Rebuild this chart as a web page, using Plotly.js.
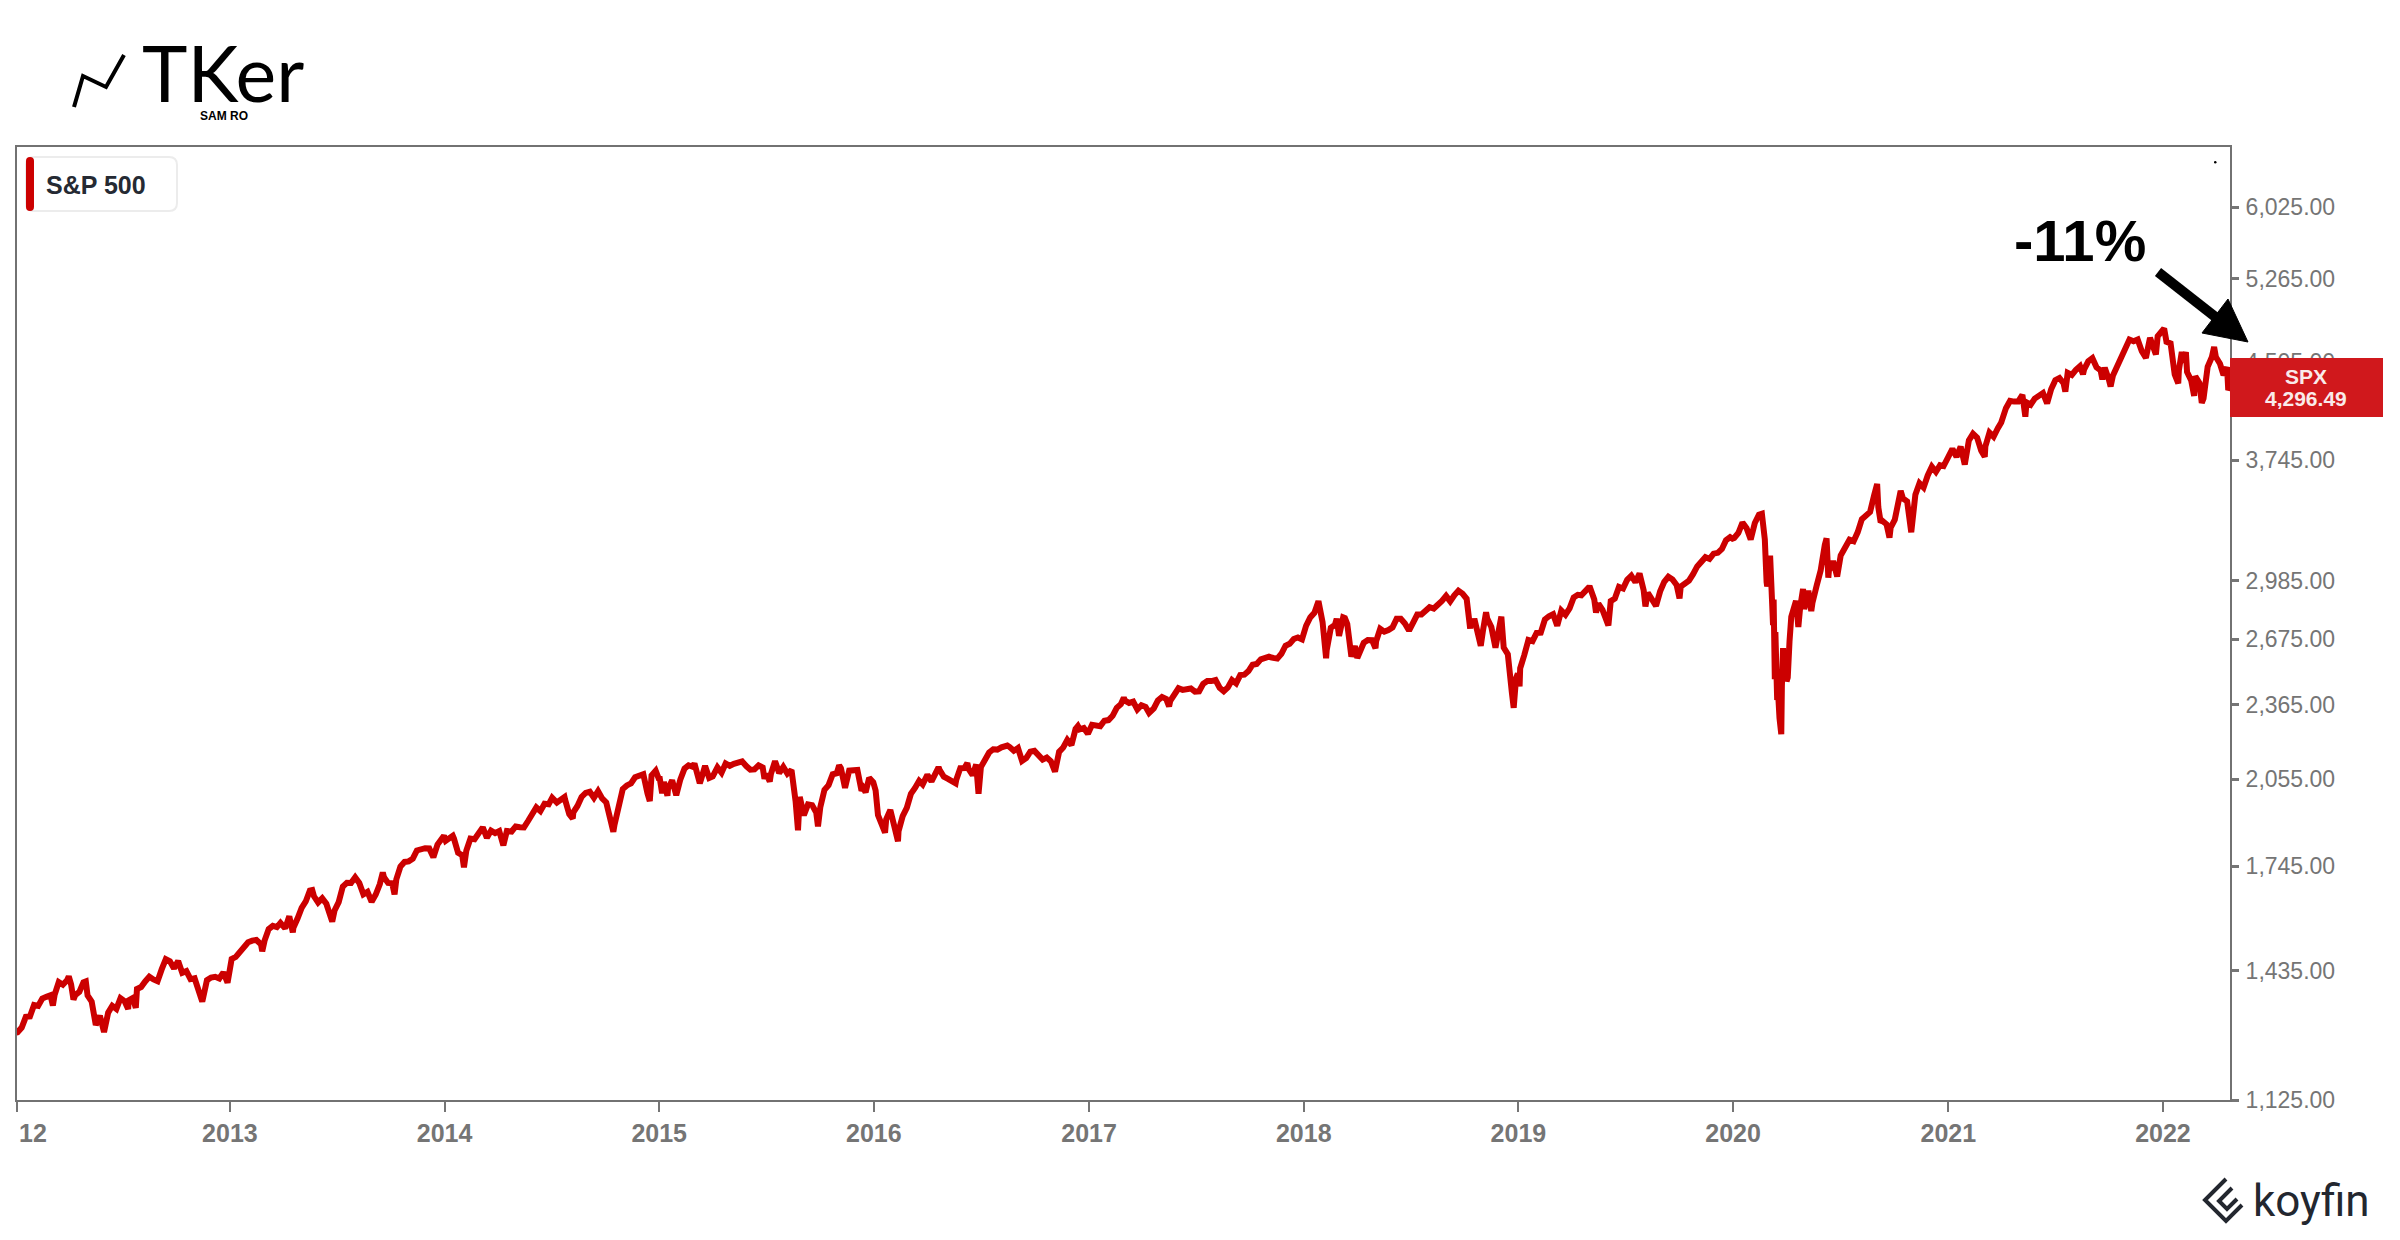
<!DOCTYPE html>
<html>
<head>
<meta charset="utf-8">
<script src="https://cdn.plot.ly/plotly-3.0.1.min.js"></script>
<style>
  html, body { margin: 0; padding: 0; background: #ffffff; }
  #chart { width: 2400px; height: 1240px; }
</style>
</head>
<body>
<div id="chart"></div>
<script>
// ---------------- DATA (S&P 500 closes, [MM-DD, value]) ----------------
const spx2012 = [["01-03",1277.06],["01-06",1277.81],["01-13",1289.09],["01-20",1315.38],["01-27",1316.33],["02-03",1344.90],["02-10",1342.64],["02-17",1361.23],["02-24",1365.74],["03-02",1369.63],["03-06",1343.36],["03-09",1370.87],["03-16",1404.17],["03-23",1397.11],["03-30",1408.47],["04-02",1419.04],["04-06",1398.08],["04-10",1358.59],["04-13",1370.26],["04-20",1378.53],["04-27",1403.36],["05-01",1405.82],["05-04",1369.10],["05-11",1353.39],["05-18",1295.22],["05-25",1317.82],["06-01",1278.04],["06-08",1325.66],["06-15",1342.84],["06-22",1335.02],["06-29",1362.16],["07-06",1354.68],["07-12",1334.76],["07-13",1356.78],["07-20",1362.66],["07-25",1337.89],["07-27",1385.97],["08-03",1390.99],["08-10",1405.87],["08-17",1418.16],["08-24",1411.13],["08-31",1406.58],["09-07",1437.92],["09-14",1465.77],["09-21",1460.15],["09-28",1440.67],["10-05",1460.93],["10-12",1428.59],["10-19",1433.19],["10-26",1411.94],["11-02",1414.20],["11-09",1379.85],["11-15",1353.33],["11-16",1359.88],["11-23",1409.15],["11-30",1416.18],["12-07",1418.07],["12-14",1413.58],["12-21",1430.15],["12-28",1402.43],["12-31",1426.19]];
const spx2013 = [["01-04",1466.47],["01-11",1472.05],["01-18",1485.98],["01-25",1502.96],["02-01",1513.17],["02-08",1517.93],["02-15",1519.79],["02-20",1511.95],["02-22",1515.60],["02-25",1487.85],["03-01",1518.20],["03-08",1551.18],["03-15",1560.70],["03-22",1556.89],["03-28",1569.19],["04-05",1553.28],["04-12",1588.85],["04-18",1541.61],["04-19",1555.25],["04-26",1582.24],["05-03",1614.42],["05-10",1633.70],["05-17",1667.47],["05-21",1669.16],["05-24",1649.60],["05-31",1630.74],["06-07",1643.38],["06-14",1626.73],["06-21",1592.43],["06-24",1573.09],["06-28",1606.28],["07-05",1631.89],["07-12",1680.19],["07-19",1692.09],["07-26",1691.65],["08-02",1709.67],["08-09",1691.42],["08-16",1655.83],["08-23",1663.50],["08-30",1632.97],["09-06",1655.17],["09-13",1687.99],["09-18",1725.52],["09-20",1709.91],["09-27",1691.75],["10-04",1690.50],["10-08",1655.45],["10-11",1703.20],["10-18",1744.50],["10-25",1759.77],["11-01",1761.64],["11-08",1770.61],["11-15",1798.18],["11-22",1804.76],["11-29",1805.81],["12-06",1805.09],["12-13",1775.32],["12-20",1818.32],["12-27",1841.40],["12-31",1848.36]];
const spx2014 = [["01-03",1831.37],["01-10",1842.37],["01-15",1848.38],["01-17",1838.70],["01-24",1790.29],["01-31",1782.59],["02-03",1741.89],["02-07",1797.02],["02-14",1838.63],["02-21",1836.25],["02-28",1859.45],["03-07",1878.04],["03-14",1841.13],["03-21",1866.52],["03-28",1857.62],["04-04",1865.09],["04-11",1815.69],["04-17",1864.85],["04-25",1863.40],["05-02",1881.14],["05-09",1878.48],["05-16",1877.86],["05-23",1900.53],["05-30",1923.57],["06-06",1949.44],["06-13",1936.16],["06-20",1962.87],["06-27",1960.96],["07-03",1985.44],["07-11",1967.57],["07-18",1978.22],["07-24",1987.98],["07-25",1978.34],["07-31",1930.67],["08-01",1925.15],["08-07",1909.57],["08-08",1931.59],["08-15",1955.06],["08-22",1988.40],["08-29",2003.37],["09-05",2007.71],["09-12",1985.54],["09-18",2011.36],["09-19",2010.40],["09-26",1982.85],["10-03",1967.90],["10-10",1906.13],["10-15",1862.49],["10-17",1886.76],["10-24",1964.58],["10-31",2018.05],["11-07",2031.92],["11-14",2039.82],["11-21",2063.50],["11-28",2067.56],["12-05",2075.37],["12-12",2002.33],["12-16",1972.74],["12-19",2070.65],["12-26",2088.77],["12-31",2058.90]];
const spx2015 = [["01-02",2058.20],["01-06",2002.61],["01-09",2044.81],["01-15",1992.67],["01-16",2019.42],["01-23",2051.82],["01-30",1994.99],["02-06",2055.47],["02-13",2096.99],["02-20",2110.30],["02-27",2104.50],["03-02",2117.39],["03-06",2071.26],["03-11",2040.24],["03-13",2053.40],["03-20",2108.10],["03-27",2061.02],["04-02",2066.96],["04-10",2102.06],["04-17",2081.18],["04-24",2117.69],["05-01",2108.29],["05-08",2116.10],["05-15",2122.73],["05-21",2130.82],["05-22",2126.06],["05-29",2107.39],["06-05",2092.83],["06-12",2094.11],["06-19",2109.99],["06-26",2101.49],["06-29",2057.64],["07-02",2076.78],["07-08",2046.68],["07-10",2076.62],["07-17",2126.64],["07-24",2079.65],["07-31",2103.84],["08-07",2077.57],["08-14",2091.54],["08-21",1970.89],["08-24",1893.21],["08-25",1867.61],["08-28",1988.87],["09-04",1921.22],["09-11",1961.05],["09-18",1958.03],["09-25",1931.34],["09-28",1881.77],["10-02",1951.36],["10-09",2014.89],["10-16",2033.11],["10-23",2075.15],["10-30",2079.36],["11-03",2109.79],["11-06",2099.20],["11-13",2023.04],["11-20",2089.17],["11-27",2090.11],["12-04",2091.69],["12-11",2012.37],["12-14",2021.94],["12-18",2005.55],["12-24",2060.99],["12-31",2043.94]];
const spx2016 = [["01-04",2012.66],["01-08",1922.03],["01-15",1880.33],["01-20",1859.33],["01-22",1906.90],["01-29",1940.24],["02-05",1880.05],["02-11",1829.08],["02-12",1864.78],["02-19",1917.78],["02-26",1948.05],["03-04",1999.99],["03-11",2022.19],["03-18",2049.58],["03-24",2035.94],["04-01",2072.78],["04-08",2047.60],["04-15",2080.73],["04-20",2102.40],["04-22",2091.58],["04-29",2065.30],["05-06",2057.14],["05-13",2046.61],["05-19",2040.04],["05-20",2052.32],["05-27",2099.06],["06-03",2099.13],["06-08",2119.12],["06-10",2096.07],["06-17",2071.22],["06-23",2113.32],["06-24",2037.41],["06-27",2000.54],["07-01",2102.95],["07-08",2129.90],["07-15",2161.74],["07-22",2175.03],["07-29",2173.60],["08-05",2182.87],["08-12",2184.05],["08-15",2190.15],["08-19",2183.87],["08-26",2169.04],["09-02",2179.98],["09-09",2127.81],["09-16",2139.16],["09-23",2164.69],["09-30",2168.27],["10-07",2153.74],["10-14",2132.98],["10-21",2141.16],["10-28",2126.41],["11-04",2085.18],["11-11",2164.45],["11-18",2181.90],["11-25",2213.35],["12-02",2191.95],["12-09",2259.53],["12-13",2271.72],["12-16",2258.07],["12-23",2263.79],["12-30",2238.83]];
const spx2017 = [["01-06",2276.98],["01-13",2274.64],["01-20",2271.31],["01-27",2294.69],["02-03",2297.42],["02-10",2316.10],["02-17",2351.16],["02-24",2367.34],["03-01",2395.96],["03-03",2383.12],["03-10",2372.60],["03-17",2378.25],["03-24",2343.98],["03-31",2362.72],["04-07",2355.54],["04-13",2328.95],["04-21",2348.69],["04-28",2384.20],["05-05",2399.29],["05-12",2390.90],["05-17",2357.03],["05-19",2381.73],["05-26",2415.82],["06-02",2439.07],["06-09",2431.77],["06-16",2433.15],["06-23",2438.30],["06-30",2423.41],["07-07",2425.18],["07-14",2459.27],["07-21",2472.54],["07-28",2472.10],["08-04",2476.83],["08-11",2441.32],["08-18",2425.55],["08-25",2443.05],["09-01",2476.55],["09-08",2461.43],["09-15",2500.23],["09-22",2502.22],["09-29",2519.36],["10-06",2549.33],["10-13",2553.17],["10-20",2575.21],["10-27",2581.07],["11-03",2587.84],["11-10",2582.30],["11-17",2578.85],["11-24",2602.42],["12-01",2642.22],["12-08",2651.50],["12-15",2675.81],["12-22",2683.34],["12-29",2673.61]];
const spx2018 = [["01-05",2743.15],["01-12",2786.24],["01-19",2810.30],["01-26",2872.87],["02-02",2762.13],["02-05",2648.94],["02-08",2581.00],["02-09",2619.55],["02-16",2732.22],["02-23",2747.30],["02-26",2779.60],["03-02",2691.25],["03-09",2786.57],["03-12",2783.02],["03-16",2752.01],["03-23",2588.26],["03-29",2640.87],["04-02",2581.88],["04-06",2604.47],["04-13",2656.30],["04-20",2670.14],["04-27",2669.91],["05-03",2629.73],["05-04",2663.42],["05-11",2727.72],["05-18",2712.97],["05-25",2721.33],["06-01",2734.62],["06-08",2779.03],["06-15",2779.66],["06-22",2754.88],["06-29",2718.37],["07-06",2759.82],["07-13",2801.31],["07-20",2801.83],["07-27",2818.82],["08-03",2840.35],["08-10",2833.28],["08-17",2850.13],["08-24",2874.69],["08-31",2901.52],["09-07",2871.68],["09-14",2904.98],["09-20",2930.75],["09-21",2929.67],["09-28",2913.98],["10-05",2885.57],["10-11",2728.37],["10-12",2767.13],["10-19",2767.78],["10-26",2658.69],["10-29",2641.25],["11-02",2723.06],["11-07",2813.89],["11-09",2781.01],["11-16",2736.27],["11-23",2632.56],["11-30",2760.17],["12-03",2790.37],["12-07",2633.08],["12-14",2599.95],["12-21",2416.62],["12-24",2351.10],["12-28",2485.74],["12-31",2506.85]];
const spx2019 = [["01-03",2447.89],["01-04",2531.94],["01-11",2596.26],["01-18",2670.71],["01-25",2664.76],["02-01",2706.53],["02-08",2707.88],["02-15",2775.60],["02-22",2792.67],["03-01",2803.69],["03-08",2743.07],["03-15",2822.48],["03-22",2800.71],["03-29",2834.40],["04-05",2892.74],["04-12",2907.41],["04-18",2905.03],["04-26",2939.88],["04-30",2945.83],["05-03",2945.64],["05-10",2881.40],["05-13",2811.87],["05-17",2859.53],["05-24",2826.06],["05-31",2752.06],["06-03",2744.45],["06-07",2873.34],["06-14",2886.98],["06-21",2950.46],["06-28",2941.76],["07-05",2990.41],["07-12",3013.77],["07-19",2976.61],["07-26",3025.86],["08-02",2932.05],["08-05",2844.74],["08-09",2918.65],["08-16",2888.68],["08-23",2847.11],["08-30",2926.46],["09-06",2978.71],["09-13",3007.39],["09-20",2992.07],["09-27",2961.79],["10-02",2887.61],["10-04",2952.01],["10-11",2970.27],["10-18",2986.20],["10-25",3022.55],["11-01",3066.91],["11-08",3093.08],["11-15",3120.46],["11-22",3110.29],["11-29",3140.98],["12-06",3145.91],["12-13",3168.80],["12-20",3221.22],["12-27",3240.02],["12-31",3230.78]];
const spx2020 = [["01-03",3234.85],["01-10",3265.35],["01-17",3329.62],["01-24",3295.47],["01-31",3225.52],["02-07",3327.71],["02-14",3380.16],["02-19",3386.15],["02-21",3337.75],["02-24",3225.89],["02-27",2978.76],["02-28",2954.22],["03-03",3003.37],["03-04",3130.12],["03-06",2972.37],["03-09",2746.56],["03-10",2882.23],["03-11",2741.38],["03-12",2480.64],["03-13",2711.02],["03-16",2386.13],["03-17",2529.19],["03-18",2398.10],["03-20",2304.92],["03-23",2237.40],["03-24",2447.33],["03-26",2630.07],["03-27",2541.47],["03-31",2584.59],["04-01",2470.50],["04-03",2488.65],["04-06",2663.68],["04-09",2789.82],["04-17",2874.56],["04-21",2736.56],["04-24",2836.74],["04-29",2939.51],["05-01",2830.71],["05-08",2929.80],["05-13",2820.00],["05-15",2863.70],["05-22",2955.45],["05-29",3044.31],["06-05",3193.93],["06-08",3232.39],["06-11",3002.10],["06-12",3041.31],["06-19",3097.74],["06-26",3009.05],["07-02",3130.01],["07-10",3185.04],["07-17",3224.73],["07-24",3215.63],["07-31",3271.12],["08-07",3351.28],["08-14",3372.85],["08-21",3397.16],["08-28",3508.01],["09-02",3580.84],["09-04",3426.96],["09-08",3331.84],["09-11",3340.97],["09-18",3319.47],["09-23",3236.92],["09-25",3298.46],["10-02",3348.44],["10-09",3477.13],["10-12",3534.22],["10-16",3483.81],["10-23",3465.39],["10-30",3269.96],["11-06",3509.44],["11-13",3585.15],["11-20",3557.54],["11-27",3638.35],["12-04",3699.12],["12-11",3663.46],["12-18",3709.41],["12-24",3703.06],["12-31",3756.07]];
const spx2021 = [["01-08",3824.68],["01-15",3768.25],["01-22",3841.47],["01-27",3750.77],["01-29",3714.24],["02-05",3886.83],["02-12",3934.83],["02-19",3906.71],["02-26",3811.15],["03-04",3768.47],["03-05",3841.94],["03-12",3943.34],["03-19",3913.10],["03-26",3974.54],["04-01",4019.87],["04-09",4128.80],["04-16",4185.47],["04-23",4180.17],["04-30",4181.17],["05-07",4232.60],["05-12",4063.04],["05-14",4173.85],["05-21",4155.86],["05-28",4204.11],["06-04",4229.89],["06-11",4247.44],["06-18",4166.45],["06-25",4280.70],["07-02",4352.34],["07-09",4369.55],["07-16",4327.16],["07-19",4258.49],["07-23",4411.79],["07-30",4395.26],["08-06",4436.52],["08-13",4468.00],["08-18",4400.27],["08-20",4441.67],["08-27",4509.37],["09-03",4535.43],["09-10",4458.58],["09-17",4432.99],["09-20",4357.73],["09-24",4455.48],["10-01",4357.04],["10-04",4300.46],["10-08",4391.34],["10-15",4471.37],["10-22",4544.90],["10-29",4605.38],["11-05",4697.53],["11-12",4682.85],["11-19",4697.96],["11-26",4594.62],["11-30",4567.00],["12-03",4538.43],["12-10",4712.02],["12-17",4620.64],["12-20",4568.02],["12-23",4725.79],["12-31",4766.18]];
const spx2022 = [["01-03",4796.56],["01-07",4677.03],["01-14",4662.85],["01-21",4397.94],["01-27",4326.51],["01-28",4431.85],["02-02",4589.38],["02-04",4500.53],["02-09",4587.18],["02-11",4418.64],["02-18",4348.87],["02-23",4225.50],["02-25",4384.65],["03-04",4328.87],["03-08",4170.70],["03-11",4204.31],["03-18",4463.12],["03-25",4543.06],["03-29",4631.60],["04-01",4545.86],["04-08",4488.28],["04-14",4392.59],["04-20",4459.45],["04-22",4271.78],["04-25",4296.49]];

const seriesByYear = {2012: spx2012, 2013: spx2013, 2014: spx2014, 2015: spx2015, 2016: spx2016, 2017: spx2017, 2018: spx2018, 2019: spx2019, 2020: spx2020, 2021: spx2021, 2022: spx2022};

const yTickVals = [1125, 1435, 1745, 2055, 2365, 2675, 2985, 3745, 4505, 5265, 6025];
const xTickYears = [2013, 2014, 2015, 2016, 2017, 2018, 2019, 2020, 2021, 2022];
const xRange = ["2012-01-05", "2022-04-25"];
const seriesName = "S&P 500";
const tickerName = "SPX";
const calloutText = "-11%";

// ---------------- BUILD ----------------
const dates = [], values = [];
Object.keys(seriesByYear).forEach(function (yr) {
  seriesByYear[yr].forEach(function (p) { dates.push(yr + "-" + p[0]); values.push(p[1]); });
});
const lastValue = values[values.length - 1];
const fmt2 = v => v.toLocaleString("en-US", {minimumFractionDigits: 2, maximumFractionDigits: 2});

// plot area in pixels
const PL = 17, PR = 2230, PT = 147, PB = 1100;
const px = x => (x - PL) / (PR - PL);
const py = y => (PB - y) / (PB - PT);
const P = (x, y) => px(x).toFixed(5) + "," + py(y).toFixed(5);
function roundRect(x0, y0, x1, y1, r) {
  return "M" + P(x0 + r, y0) + " L" + P(x1 - r, y0) + " Q" + P(x1, y0) + " " + P(x1, y0 + r) +
    " L" + P(x1, y1 - r) + " Q" + P(x1, y1) + " " + P(x1 - r, y1) +
    " L" + P(x0 + r, y1) + " Q" + P(x0, y1) + " " + P(x0, y1 - r) +
    " L" + P(x0, y0 + r) + " Q" + P(x0, y0) + " " + P(x0 + r, y0) + " Z";
}

const axisGray = "#757575";
const frameGray = "#727272";
const baseFont = "'Liberation Sans', Arial, sans-serif";

const trace = {
  x: dates, y: values, type: "scatter", mode: "lines", name: seriesName,
  line: {color: "#cc0000", width: 6}, hoverinfo: "skip"
};

const shapes = [
  // legend box
  {type: "path", xref: "paper", yref: "paper", path: roundRect(26, 157, 177, 211, 8), fillcolor: "#ffffff", line: {color: "#ececec", width: 2}, layer: "above"},
  {type: "path", xref: "paper", yref: "paper", path: roundRect(26, 157, 34, 211, 4), fillcolor: "#cc0000", line: {width: 0}, layer: "above"},
  // arrow shaft and head
  {type: "line", xref: "paper", yref: "paper", x0: px(2158), y0: py(272), x1: px(2218), y1: py(319), line: {color: "#000000", width: 10}, layer: "above"},
  {type: "path", xref: "paper", yref: "paper", path: "M" + P(2248, 342) + " L" + P(2202, 333) + " L" + P(2228, 299) + " Z", fillcolor: "#000000", line: {color: "#000000", width: 1}, layer: "above"},
  // small dot
  {type: "circle", xref: "paper", yref: "paper", x0: px(2214), y0: py(161), x1: px(2216.5), y1: py(163.5), fillcolor: "#000", line: {width: 0}, layer: "above"},
  // TKer logo mark
  {type: "path", xref: "paper", yref: "paper", path: "M" + P(74, 107) + " L" + P(83, 76) + " L" + P(106, 87) + " L" + P(124, 55), line: {color: "#000", width: 4}, layer: "above"},
  // koyfin mark
  {type: "path", xref: "paper", yref: "paper", path: "M" + P(2226, 1179) + " L" + P(2205, 1200) + " L" + P(2226, 1221) + " L" + P(2242, 1205), line: {color: "#23272f", width: 4}, layer: "above"},
  {type: "path", xref: "paper", yref: "paper", path: "M" + P(2232, 1188) + " L" + P(2219, 1201) + " L" + P(2227, 1209) + " L" + P(2237, 1199), line: {color: "#23272f", width: 4}, layer: "above"}
];

const annotations = [
  {xref: "paper", yref: "paper", x: px(223), y: py(72), xanchor: "center", yanchor: "middle", showarrow: false, text: "TKer", font: {family: "Lato, 'Open Sans', sans-serif", size: 77, color: "#000"}},
  {xref: "paper", yref: "paper", x: px(223.5), y: py(116), xanchor: "center", yanchor: "middle", showarrow: false, text: "SAM RO", font: {family: "'Liberation Sans Narrow', 'Liberation Sans', sans-serif", size: 12, color: "#000", weight: "bold"}},
  {xref: "paper", yref: "paper", x: px(44), y: py(185), xanchor: "left", yanchor: "middle", showarrow: false, text: seriesName, font: {family: baseFont, size: 25, color: "#252a33", weight: "bold"}},
  {xref: "paper", yref: "paper", x: px(2080), y: py(241), xanchor: "center", yanchor: "middle", showarrow: false, text: calloutText, font: {family: baseFont, size: 58, color: "#000", weight: "bold"}},
  {xref: "paper", yref: "paper", x: px(17), y: py(1133), xanchor: "left", yanchor: "middle", showarrow: false, text: "12", font: {family: baseFont, size: 25, color: axisGray, weight: "bold"}},
  // last value box (background) and its two text lines
  {xref: "paper", yref: "y", x: px(2230), y: Math.log10(lastValue), xanchor: "left", yanchor: "middle", showarrow: false, text: " ", width: 153, height: 59, borderpad: 0, borderwidth: 0, bgcolor: "#d0181c", font: {family: baseFont, size: 10, color: "#d0181c"}},
  {xref: "paper", yref: "y", x: px(2306.5), y: Math.log10(lastValue), yshift: 10.5, xanchor: "center", yanchor: "middle", showarrow: false, text: tickerName, font: {family: baseFont, size: 21, color: "#f9eaea", weight: "bold"}},
  {xref: "paper", yref: "y", x: px(2306.5), y: Math.log10(lastValue), yshift: -11, xanchor: "center", yanchor: "middle", showarrow: false, text: fmt2(lastValue), font: {family: baseFont, size: 21, color: "#f9eaea", weight: "bold"}},
  {xref: "paper", yref: "paper", x: px(2251), y: py(1201), xanchor: "left", yanchor: "middle", showarrow: false, text: "koyfin", font: {family: "Roboto, 'Open Sans', sans-serif", size: 44, color: "#23272f"}}
];

const layout = {
  width: 2400, height: 1240,
  margin: {l: PL, r: 2400 - PR, t: PT, b: 1240 - PB, pad: 0},
  paper_bgcolor: "#ffffff", plot_bgcolor: "#ffffff",
  showlegend: false,
  xaxis: {
    type: "date", range: xRange,
    tickvals: [xRange[0]].concat(xTickYears.map(y => y + "-01-01")),
    ticktext: [""].concat(xTickYears.map(String)),
    ticks: "outside", ticklen: 10, tickwidth: 2, tickcolor: axisGray,
    showline: true, linecolor: frameGray, linewidth: 2, mirror: true,
    showgrid: false, zeroline: false,
    tickfont: {family: baseFont, size: 25, color: axisGray, weight: "bold"}
  },
  yaxis: {
    type: "log", side: "right",
    range: [Math.log10(1125), 3.829],
    tickvals: yTickVals, ticktext: yTickVals.map(fmt2),
    ticks: "outside", ticklen: 7, tickwidth: 3, tickcolor: axisGray,
    ticklabelstandoff: 2,
    showline: true, linecolor: frameGray, linewidth: 2, mirror: true,
    showgrid: false, zeroline: false,
    tickfont: {family: baseFont, size: 23, color: axisGray}
  },
  shapes: shapes,
  annotations: annotations
};

Plotly.newPlot("chart", [trace], layout, {staticPlot: true, displayModeBar: false});
</script>
</body>
</html>
